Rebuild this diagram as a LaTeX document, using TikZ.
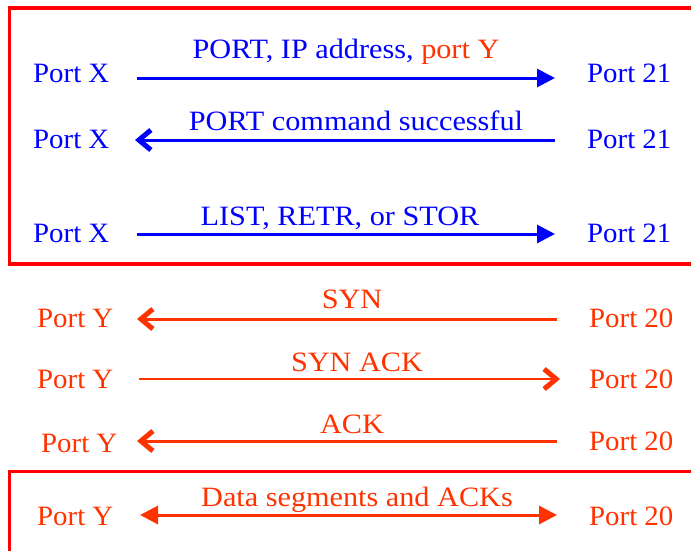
\documentclass[tikz,border=0pt]{standalone}
\usepackage{fontspec}
\setmainfont[FakeStretch=1.08]{Liberation Serif}
\newfontfamily\portfont[FakeStretch=1.03]{Liberation Serif}
\usetikzlibrary{arrows.meta}
\definecolor{ftpblue}{RGB}{0,0,255}
\definecolor{ftporange}{RGB}{255,51,0}
\definecolor{boxred}{RGB}{255,0,0}
\begin{document}
\begin{tikzpicture}[x=1pt,y=-1pt,
  lbl/.style={font=\portfont\fontsize{28}{30}\selectfont, inner sep=0pt, anchor=base west},
  msg/.style={font=\fontsize{28}{30}\selectfont, inner sep=0pt, anchor=base},
  redbox/.style={draw=boxred, line width=3.5pt},
  thick arrow/.style={line width=3pt},
  thin arrow/.style={line width=1.2pt},
  tri/.style={-{Triangle[length=18pt,width=18pt]}},
  dtri/.style={{Triangle[length=18pt,width=18pt]}-{Triangle[length=18pt,width=18pt]}},
  barb/.style={-{Straight Barb[length=12pt,width=20pt,line width=5pt]}},
]
\useasboundingbox (0,0) rectangle (691,550);
\clip (0,0) rectangle (691,550);
\fill[white] (0,0) rectangle (691,550);

% boxes
\draw[redbox] (9.5,8) rectangle (705,264);
\draw[redbox] (9.5,471.5) rectangle (705,565);

% blue section
\begin{scope}[ftpblue]
\node[lbl, text=ftpblue] (x1) at (33,82) {Port X};
\node[lbl, text=ftpblue] (x2) at (33,148) {Port X};
\node[lbl, text=ftpblue] (x3) at (33,242) {Port X};
\node[lbl, text=ftpblue] (p1) at (587,82) {Port 21};
\node[lbl, text=ftpblue] (p2) at (587,148) {Port 21};
\node[lbl, text=ftpblue] (p3) at (587,242) {Port 21};
\node[msg, text=ftpblue] (m1) at (346,58) {PORT, IP address, \textcolor{ftporange}{port Y}};
\node[msg, text=ftpblue] (m2) at (356,130) {PORT command successful};
\node[msg, text=ftpblue] (m3) at (340,225) {LIST, RETR, or STOR};
\coordinate (a1s) at (137,78);  \coordinate (a1e) at (555,78);
\coordinate (a2s) at (555,140); \coordinate (a2e) at (135,140);
\coordinate (a3s) at (137,234); \coordinate (a3e) at (555,234);
\draw[thick arrow, tri] (a1s) -- (a1e);
\draw[thick arrow, barb] (a2s) -- (a2e);
\draw[thick arrow, tri] (a3s) -- (a3e);
\end{scope}

% orange section
\begin{scope}[ftporange]
\node[lbl, text=ftporange] (y1) at (37,327) {Port Y};
\node[lbl, text=ftporange] (y2) at (37,388) {Port Y};
\node[lbl, text=ftporange] (y3) at (41,452) {Port Y};
\node[lbl, text=ftporange] (y4) at (37,525) {Port Y};
\node[lbl, text=ftporange] (q1) at (589,327) {Port 20};
\node[lbl, text=ftporange] (q2) at (589,388) {Port 20};
\node[lbl, text=ftporange] (q3) at (589,450) {Port 20};
\node[lbl, text=ftporange] (q4) at (589,525) {Port 20};
\node[msg, text=ftporange] (s1) at (352,308) {SYN};
\node[msg, text=ftporange] (s2) at (357,371) {SYN ACK};
\node[msg, text=ftporange] (s3) at (352,433) {ACK};
\node[msg, text=ftporange] (s4) at (357,506) {Data segments and ACKs};
\coordinate (b1s) at (557,319); \coordinate (b1e) at (137,319);
\coordinate (b2s) at (139,379); \coordinate (b2e) at (560,379);
\coordinate (b3s) at (557,441); \coordinate (b3e) at (137,441);
\coordinate (b4s) at (140,515); \coordinate (b4e) at (557,515);
\draw[thick arrow, barb] (b1s) -- (b1e);
\draw[thin arrow, barb] (b2s) -- (b2e);
\draw[thick arrow, barb] (b3s) -- (b3e);
\draw[thick arrow, dtri] (b4s) -- (b4e);
\end{scope}
\end{tikzpicture}
\end{document}
